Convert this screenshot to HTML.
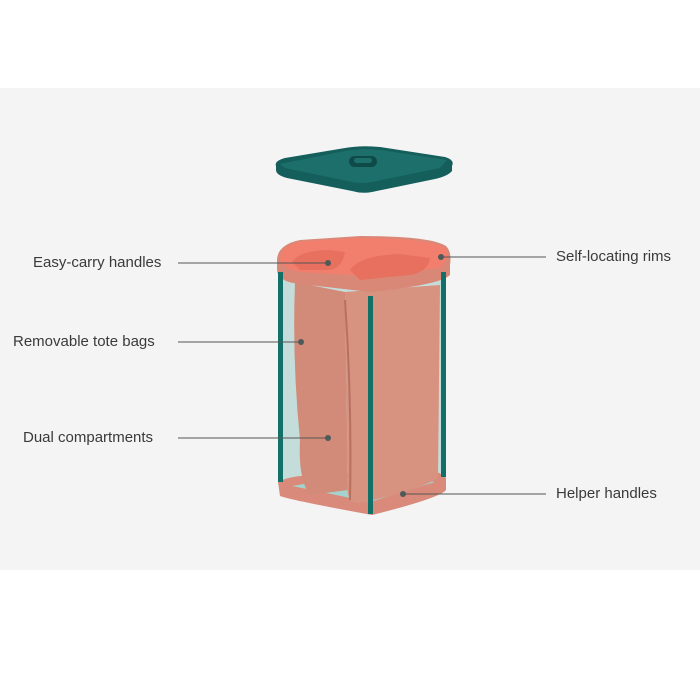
<!DOCTYPE html>
<html><head><style>
body{margin:0;width:700px;height:700px;background:#fff;position:relative;overflow:hidden;font-family:"Liberation Sans",sans-serif}
.band{position:absolute;left:0;top:88px;width:700px;height:482px;background:#f4f4f4}
.lbl{position:absolute;font-size:15px;color:#3a3a3a;white-space:nowrap}
svg{position:absolute;left:0;top:0}
</style></head><body>
<div class="band"></div>
<svg width="700" height="700" viewBox="0 0 700 700">
<!-- lid -->
<path d="M276 166 Q274 161 285 158 L345 148 Q362 145 380 147 L445 157 Q455 160 452 166 L452 171 Q448 176 435 179 L372 192 Q362 194 352 191 L287 178 Q276 175 276 170Z" fill="#145f5c"/>
<path d="M280 164 L345 151 Q362 148 380 150 L447 160 L440 168 L372 182 Q362 184 352 182 L285 168Z" fill="#1d6f6b"/>
<rect x="349" y="156" width="28" height="11" rx="5.5" fill="#0f4a48"/>
<rect x="354" y="158" width="18" height="5" rx="2.5" fill="#1d6f6b"/>
<!-- back glass -->
<path d="M282 280 L442 275 L442 478 L282 485Z" fill="#9fcbc4" opacity=".55"/>
<!-- base -->
<path d="M278 482 Q285 478 300 476 L420 470 Q440 470 446 478 L446 490 Q440 498 372 515 Q290 500 280 496Z" fill="#d98a7a"/>
<path d="M292 486 L370 502 L435 482 L372 473 Z" fill="#a3d3cc"/>
<!-- bags -->
<path d="M295 282 L345 292 L348 490 L310 495 Q298 480 300 440 Q292 360 295 282Z" fill="#d28b78"/>
<path d="M345 292 L440 285 L438 478 Q420 490 360 503 Q345 505 348 480 L345 292Z" fill="#d89280"/>
<path d="M345 300 Q352 400 350 500" stroke="#b8705f" stroke-width="2" fill="none"/>
<!-- rim -->
<path d="M277 262 Q276 245 300 240 L360 236 Q430 236 446 246 Q452 252 450 265 L450 275 Q440 285 370 292 L300 284 Q278 282 277 270Z" fill="#d98877"/>
<path d="M280 258 Q282 244 305 241 L360 238 Q425 238 446 248 Q450 258 440 268 L370 276 L300 272 Q280 268 280 258Z" fill="#f27f6e"/>
<path d="M292 262 Q300 250 330 250 L345 252 Q342 268 330 270 L300 270Z" fill="#e8705f"/>
<path d="M350 270 Q360 255 400 254 L430 258 Q428 272 410 275 L360 280Z" fill="#e8705f"/>
<!-- poles -->
<rect x="278" y="272" width="5" height="210" fill="#137068"/>
<rect x="368" y="296" width="5" height="218" fill="#137068"/>
<rect x="441" y="272" width="5" height="205" fill="#137068"/>
<!-- leader lines -->
<g stroke="#555" stroke-width="1">
<line x1="178" y1="263" x2="328" y2="263"/>
<line x1="178" y1="342" x2="300" y2="342"/>
<line x1="178" y1="438" x2="328" y2="438"/>
<line x1="442" y1="257" x2="546" y2="257"/>
<line x1="403" y1="494" x2="546" y2="494"/>
</g>
<g fill="#4d5a58">
<circle cx="328" cy="263" r="3"/><circle cx="301" cy="342" r="3"/><circle cx="328" cy="438" r="3"/><circle cx="441" cy="257" r="3"/><circle cx="403" cy="494" r="3"/>
</g>
</svg>
<div class="lbl" style="left:33px;top:254px">Easy-carry handles</div>
<div class="lbl" style="left:13px;top:333px">Removable tote bags</div>
<div class="lbl" style="left:23px;top:429px">Dual compartments</div>
<div class="lbl" style="left:556px;top:248px">Self-locating rims</div>
<div class="lbl" style="left:556px;top:485px">Helper handles</div>
</body></html>
